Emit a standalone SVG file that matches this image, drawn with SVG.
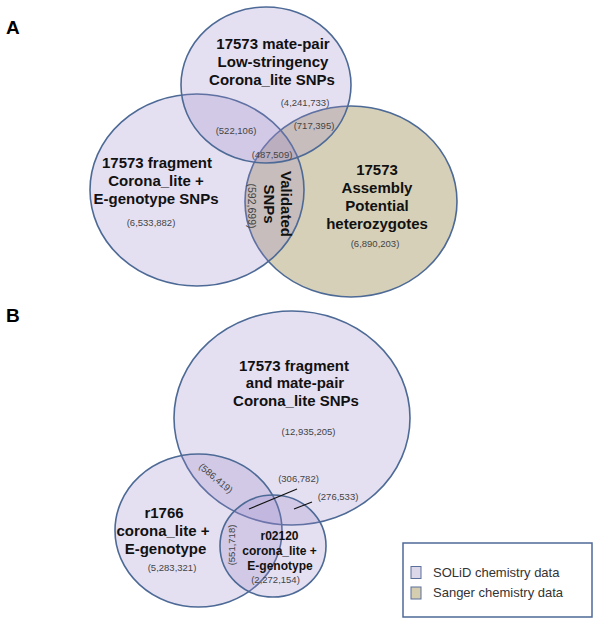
<svg xmlns="http://www.w3.org/2000/svg" width="600" height="622" viewBox="0 0 600 622">
<style>
.lav{fill:#9682c8;fill-opacity:0.25;stroke:#4d6a96;stroke-width:1.6}
.tan{fill:#d6d0b8;stroke:#4d6a96;stroke-width:1.6}
.lbl{font-family:"Liberation Sans",Arial,sans-serif;font-weight:bold;font-size:15px;fill:#111;text-anchor:middle}
.sm{font-family:"Liberation Sans",Arial,sans-serif;font-weight:bold;font-size:12px;fill:#111;text-anchor:middle}
.num{font-family:"Liberation Sans",Arial,sans-serif;font-size:9.5px;fill:#444;text-anchor:middle}
.pl{font-family:"Liberation Sans",Arial,sans-serif;font-weight:bold;font-size:19px;fill:#000}
.leg{font-family:"Liberation Sans",Arial,sans-serif;font-size:13px;fill:#333}
.ln{stroke:#111;stroke-width:1.2;fill:none}
</style>
<rect width="600" height="622" fill="#fff"/>
<text class="pl" x="6" y="34">A</text>
<text class="pl" x="6" y="322">B</text>

<g id="a-assembly">
<ellipse class="tan" cx="351" cy="201.5" rx="106" ry="95.5"/>
<text class="lbl" x="377" y="175">17573</text>
<text class="lbl" x="377" y="193">Assembly</text>
<text class="lbl" x="377" y="211">Potential</text>
<text class="lbl" x="377" y="229">heterozygotes</text>
<text class="num" x="375" y="247">(6,890,203)</text>
</g>
<g id="a-fragment">
<ellipse class="lav" cx="197" cy="190" rx="107" ry="96"/>
<text class="lbl" x="157" y="168">17573 fragment</text>
<text class="lbl" x="156" y="186">Corona_lite +</text>
<text class="lbl" x="156" y="204">E-genotype SNPs</text>
<text class="num" x="151" y="226">(6,533,882)</text>
</g>
<g id="a-matepair">
<ellipse class="lav" cx="266" cy="85" rx="85" ry="78"/>
<text class="lbl" x="273" y="49">17573 mate-pair</text>
<text class="lbl" x="273" y="67">Low-stringency</text>
<text class="lbl" x="272" y="85">Corona_lite SNPs</text>
<text class="num" x="305" y="106">(4,241,733)</text>
</g>
<g id="a-overlaps">
<text class="num" x="236" y="134">(522,106)</text>
<text class="num" x="314" y="129">(717,395)</text>
<text class="num" x="272" y="158">(487,509)</text>
<g transform="translate(286,204) rotate(90)"><text class="lbl" x="0" y="5">Validated</text></g>
<g transform="translate(268.5,204) rotate(90)"><text class="lbl" x="0" y="5">SNPs</text></g>
<g transform="translate(251,206) rotate(90)"><text class="num" x="0" y="3.5" style="font-size:10.5px">(592,699)</text></g>
</g>

<g id="b-big">
<ellipse class="lav" cx="292" cy="418" rx="118" ry="107"/>
<text class="lbl" x="294" y="371">17573 fragment</text>
<text class="lbl" x="295" y="388">and mate-pair</text>
<text class="lbl" x="296" y="406">Corona_lite SNPs</text>
<text class="num" x="308.5" y="435">(12,935,205)</text>
</g>
<g id="b-r1766">
<ellipse class="lav" cx="198.5" cy="530.5" rx="83.5" ry="76.5"/>
<text class="lbl" x="164" y="518">r1766</text>
<text class="lbl" x="163" y="536">corona_lite +</text>
<text class="lbl" x="165.5" y="554">E-genotype</text>
<text class="num" x="172" y="571">(5,283,321)</text>
</g>
<g id="b-r02120">
<ellipse class="lav" cx="273" cy="546" rx="53" ry="51"/>
<text class="sm" x="279.5" y="540">r02120</text>
<text class="sm" x="279.5" y="555">corona_lite +</text>
<text class="sm" x="280" y="570">E-genotype</text>
<text class="num" x="275.5" y="583">(2,272,154)</text>
</g>
<g id="b-overlaps">
<g transform="translate(216,478) rotate(40)"><text class="num" x="0" y="3.5">(586,419)</text></g>
<g transform="translate(231,545) rotate(-90)"><text class="num" x="0" y="3.5">(551,718)</text></g>
<text class="num" x="298.5" y="482">(306,782)</text>
<text class="num" x="338" y="500">(276,533)</text>
</g>
<g id="connectors">
<line class="ln" x1="249" y1="509" x2="297" y2="489"/>
<line class="ln" x1="294" y1="509" x2="312" y2="502"/>
</g>

<g id="legend">
<rect x="403" y="543" width="189" height="74" fill="#fff" stroke="#4d6a96" stroke-width="1.5"/>
<rect x="411" y="566.5" width="10" height="12" fill="#dcd8ea" stroke="#5a6f9a" stroke-width="1"/>
<rect x="411" y="587" width="10" height="12" fill="#d4cdb0" stroke="#5a6f9a" stroke-width="1"/>
<text class="leg" x="433" y="577">SOLiD chemistry data</text>
<text class="leg" x="433" y="597">Sanger chemistry data</text>
</g>
</svg>
